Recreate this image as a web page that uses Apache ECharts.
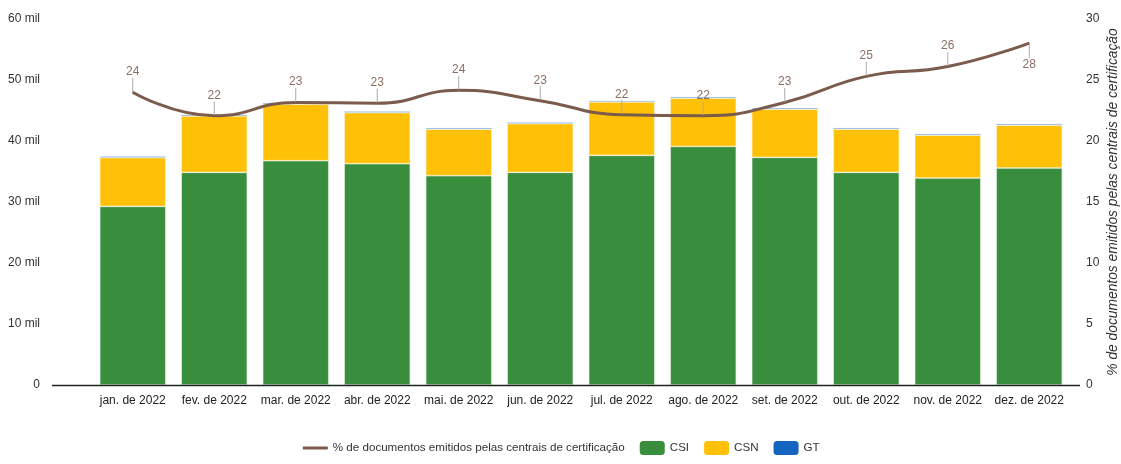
<!DOCTYPE html>
<html><head><meta charset="utf-8">
<script src="https://cdn.jsdelivr.net/npm/echarts@6/dist/echarts.min.js"></script>
<style>html,body{margin:0;padding:0;background:#fff}#c{width:1121px;height:464px}</style>
</head><body><div id="c"></div>
<script>
const categories = ['jan. de 2022','fev. de 2022','mar. de 2022','abr. de 2022','mai. de 2022','jun. de 2022','jul. de 2022','ago. de 2022','set. de 2022','out. de 2022','nov. de 2022','dez. de 2022'];
const csi = [29280, 34850, 36770, 36280, 34310, 34850, 37640, 39110, 37310, 34850, 33930, 35570];
const csn = [8000, 9260, 9260, 8370, 7620, 8000, 8770, 7900, 7900, 7080, 7020, 7020];
const gt  = [200, 200, 200, 200, 200, 200, 200, 200, 200, 200, 200, 200];
const pct = [24, 22.07, 23.16, 23.1, 24.15, 23.3, 22.15, 22.07, 23.16, 25.3, 26.1, 28.03];
const pctLabels = [24, 22, 23, 23, 24, 23, 22, 22, 23, 25, 26, 28];
const leftTicks = ['0','10 mil','20 mil','30 mil','40 mil','50 mil','60 mil'];
const lineName = '% de documentos emitidos pelas centrais de certificação';

const chart = echarts.init(document.getElementById('c'));
const font = 'Liberation Sans, Arial, sans-serif';
chart.setOption({
  animation: false,
  textStyle: {fontFamily: font},
  grid: {left: 92, right: 51, top: 19, bottom: 79, containLabel: false, outerBoundsMode: 'none'},
  legend: {
    bottom: 4, left: 'center', itemWidth: 25, itemHeight: 14, itemGap: 15,
    textStyle: {fontFamily: font, fontSize: 11.6, color: '#333'},
    data: [
      {name: lineName, itemStyle: {opacity: 0}, lineStyle: {width: 3}},
      {name: 'CSI', itemStyle: {borderWidth: 0}},
      {name: 'CSN', itemStyle: {borderWidth: 0}},
      {name: 'GT', itemStyle: {borderWidth: 0}}
    ]
  },
  xAxis: {
    type: 'category', data: categories,
    axisLine: {show: false}, axisTick: {show: false},
    axisLabel: {color: '#222', fontSize: 12, margin: 10, interval: 0, fontFamily: font}
  },
  yAxis: [{
    type: 'value', min: 0, max: 60000, interval: 10000,
    splitLine: {show: false}, axisLine: {show: false}, axisTick: {show: false},
    axisLabel: {color: '#333', fontSize: 12, margin: 52, fontFamily: font,
      formatter: v => leftTicks[Math.round(v / 10000)]}
  }, {
    type: 'value', min: 0, max: 30, interval: 5, position: 'right',
    splitLine: {show: false}, axisLine: {show: false}, axisTick: {show: false},
    axisLabel: {color: '#333', fontSize: 12, margin: 16, fontFamily: font},
    name: lineName, nameLocation: 'middle', nameRotate: 90, nameGap: 36,
    nameMoveOverlap: false,
    nameTextStyle: {fontStyle: 'italic', fontSize: 13.8, color: '#333', fontFamily: font}
  }],
  graphic: [{
    type: 'line', shape: {x1: 52, y1: 385.5, x2: 1080, y2: 385.5},
    style: {stroke: '#222', lineWidth: 1.5}, z: 10
  }],
  series: [
    {name: 'CSI', type: 'bar', stack: 't', data: csi, barCategoryGap: '19%',
      itemStyle: {color: '#388e3c', borderColor: '#e8f0e8', borderWidth: 0.6}},
    {name: 'CSN', type: 'bar', stack: 't', data: csn,
      itemStyle: {color: '#ffc107', borderColor: '#fff6d8', borderWidth: 0.6}},
    {name: 'GT', type: 'bar', stack: 't', data: gt,
      itemStyle: {color: '#1565c0', borderColor: '#cfe0f0', borderWidth: 0.6}},
    {name: lineName, type: 'line', yAxisIndex: 1, data: pct, smooth: 0.5,
      symbol: 'circle', symbolSize: 1, showSymbol: true, z: 5,
      lineStyle: {color: '#7b5b4c', width: 3},
      itemStyle: {color: '#7b5b4c'},
      label: {show: true, position: 'top', distance: 2, color: '#8d6e63', fontSize: 12,
        fontFamily: font, formatter: p => pctLabels[p.dataIndex]},
      labelLayout: p => ({dy: p.dataIndex === 11 ? 30 : -12}),
      labelLine: {show: true, lineStyle: {color: '#aaa', width: 1}}
    }
  ]
});
</script></body></html>
